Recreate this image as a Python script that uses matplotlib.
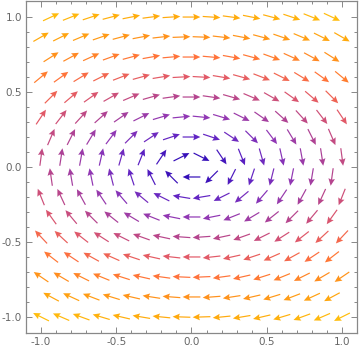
import numpy as np
import matplotlib
matplotlib.use("Agg")
import matplotlib.pyplot as plt
from matplotlib.colors import LinearSegmentedColormap, Normalize

# staggered sample grid (Mathematica style): even rows shifted by half a step
step = 2.0 / 15
row_y = [1.0 - i * step for i in range(16)]
full_row_x = [-1.0 + j * step for j in range(16)]
half_row_x = [-1.0 + step / 2 + j * step for j in range(15)]

# vector field: elliptic rotation (2y, -x)
def field(x, y):
    return 2 * y, -x

# colour by magnitude
mag_stops = [0.0, 0.13, 0.4, 0.67, 0.93, 1.2, 1.47, 1.73, 2.0, 2.24]
mag_colors = ["#2000b8", "#2800b4", "#5818c0", "#8a2cb0", "#b03a88",
              "#e05060", "#ff6a30", "#ff8a10", "#ffa500", "#ffba00"]

cmap = LinearSegmentedColormap.from_list(
    "vp", list(zip([m / mag_stops[-1] for m in mag_stops], mag_colors)))

xs, ys = [], []
for i, y in enumerate(row_y):
    for x in (half_row_x if i % 2 == 0 else full_row_x):
        xs.append(x)
        ys.append(y)
xs = np.array(xs)
ys = np.array(ys)
u, v = field(xs, ys)
m = np.hypot(u, v)
L = 0.118
uu = u / m * L
vv = v / m * L

fig = plt.figure(figsize=(3.6, 3.51), dpi=100)
ax = fig.add_axes([26 / 360, 18 / 351, 331 / 360, 332 / 351])

ax.quiver(xs, ys, uu, vv, m, cmap=cmap, norm=Normalize(0, mag_stops[-1]),
          units="xy", angles="xy", scale_units="xy", scale=1, pivot="middle",
          width=0.008, headwidth=5.5, headlength=6, headaxislength=5.2,
          alpha=0.95)

ax.set_xlim(-1.1, 1.1)
ax.set_ylim(-1.107, 1.107)

frame_col = "#888888"
for s in ax.spines.values():
    s.set_color(frame_col)
    s.set_linewidth(0.9)

ticks = [-1.0, -0.5, 0.0, 0.5, 1.0]
ax.set_xticks(ticks)
ax.set_yticks(ticks)
ax.set_xticks(np.arange(-1.0, 1.01, 0.1), minor=True)
ax.set_yticks(np.arange(-1.0, 1.01, 0.1), minor=True)
ax.xaxis.set_major_formatter(matplotlib.ticker.FormatStrFormatter("%.1f"))
ax.yaxis.set_major_formatter(matplotlib.ticker.FormatStrFormatter("%.1f"))
ax.tick_params(which="both", direction="in", top=True, right=True,
               color=frame_col, width=0.7, labelcolor="#666666",
               labelsize=7.5, pad=3)
ax.tick_params(which="major", length=4)
ax.tick_params(which="minor", length=2.3)

fig.savefig("out.png", dpi=100)
